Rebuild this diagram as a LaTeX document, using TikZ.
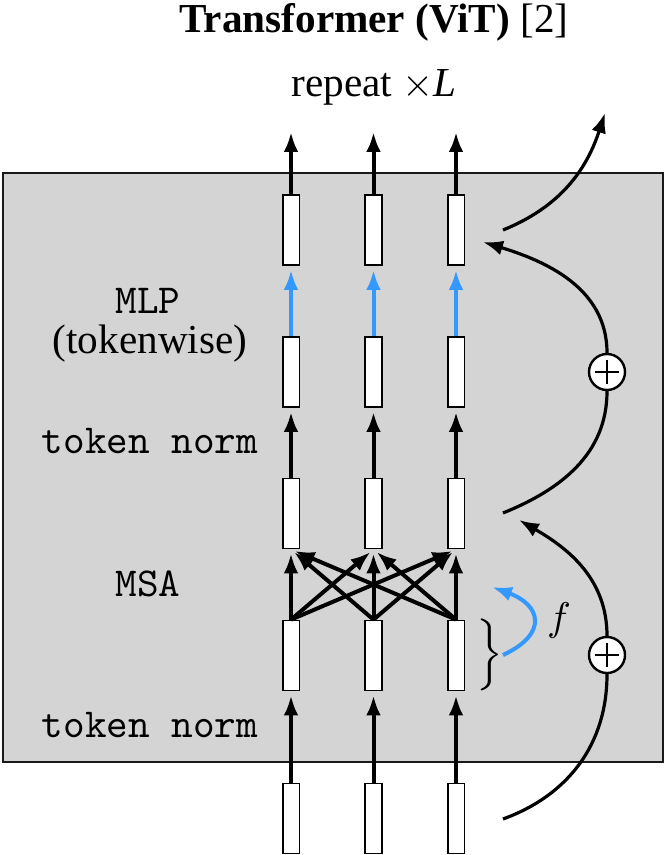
\documentclass[tikz,border=0pt]{standalone}
\usepackage{fontspec}
\setmainfont{Liberation Serif}
\usetikzlibrary{arrows.meta}
\definecolor{boxgray}{RGB}{212,212,212}
\definecolor{fblue}{RGB}{51,153,255}
\begin{document}
\begin{tikzpicture}[x=0.25pt,y=0.25pt,
  font=\fontsize{10.3}{12.4}\selectfont,
  tok/.style={draw=black, fill=white, line width=0.45pt, minimum width=4.2pt, minimum height=17.5pt, inner sep=0pt},
  arr/.style={line width=1pt, -{Latex[length=5pt,width=3.7pt]}, shorten >=1pt},
  curve/.style={line width=0.8pt},
  curvearr/.style={line width=0.8pt, -{Latex[length=5pt,width=3.7pt]}},
  plus/.style={circle, draw=black, fill=white, line width=0.6pt, minimum size=9pt, inner sep=0pt,
    path picture={\draw[line width=0.65pt] ([xshift=-2.9pt]path picture bounding box.center) -- ([xshift=2.9pt]path picture bounding box.center)
      ([yshift=-2.9pt]path picture bounding box.center) -- ([yshift=2.9pt]path picture bounding box.center);}},
  lbl/.style={anchor=base, inner sep=0pt}
]
\useasboundingbox (0,0) rectangle (665,-855);
% gray block
\draw[fill=boxgray, draw=black!90, line width=0.5pt] (2.5,-173) rectangle (663,-762);
% titles
\node[lbl] (title) at (374,-33) {\textbf{Transformer (ViT)} [2]};
\node[lbl] (rep) at (374,-97) {repeat $\times$\textit{L}};
% labels
\node[lbl] (mlp) at (148,-313) {\texttt{MLP}};
\node[lbl] (tw) at (150,-353) {(tokenwise)};
\node[lbl] (tn1) at (150,-453) {\texttt{token norm}};
\node[lbl] (msa) at (148,-596) {\texttt{MSA}};
\node[lbl] (tn2) at (150,-737) {\texttt{token norm}};
% tokens
\foreach \c/\x in {1/291,2/373.5,3/456}{
  \foreach \r/\y in {1/230,2/372,3/513.5,4/655.5,5/818.5}{
    \node[tok] (r\r\c) at (\x,-\y) {};
  }
  \coordinate (o\c) at (\x,-128);
}
% vertical connections
\foreach \c in {1,2,3}{
  \draw[arr] (r1\c.north) -- (o\c);
  \draw[arr, fblue] (r2\c.north) -- (r1\c.south);
  \draw[arr] (r3\c.north) -- (r2\c.south);
  \draw[arr] (r5\c.north) -- (r4\c.south);
}
% MSA all-to-all
\foreach \a in {1,2,3}{
  \foreach \b in {1,2,3}{
    \draw[arr] (r4\a.north) -- (r3\b.south);
  }
}
% residual paths
\node[plus] (p1) at (607,-655) {};
\node[plus] (p2) at (607,-372) {};
\coordinate (s1) at (503,-819);
\coordinate (e1) at (519,-520);
\coordinate (s2) at (503,-513);
\coordinate (e2) at (483,-242);
\coordinate (s3) at (503,-230);
\coordinate (e3) at (605,-113);
\draw[curve] (s1) to[out=20,in=-90] (p1.south);
\draw[curvearr] (p1.north) to[out=90,in=-30] (e1);
\draw[curve] (s2) to[out=22,in=-90] (p2.south);
\draw[curvearr] (p2.north) to[out=90,in=-17] (e2);
\draw[curvearr] (s3) to[out=22,in=-108] (e3);
% f
\coordinate (b0) at (503,-655);
\coordinate (b1) at (492,-587);
\draw[arr, fblue, shorten >=0pt] (b0) to[out=25,in=-20,looseness=1.9] (b1);
\node (f) at (559,-620) {$f$};
\node[inner sep=0pt, anchor=east] (br) at (504,-655) {$\left.\vcenter to 17pt{}\right\}$};
\end{tikzpicture}
\end{document}
